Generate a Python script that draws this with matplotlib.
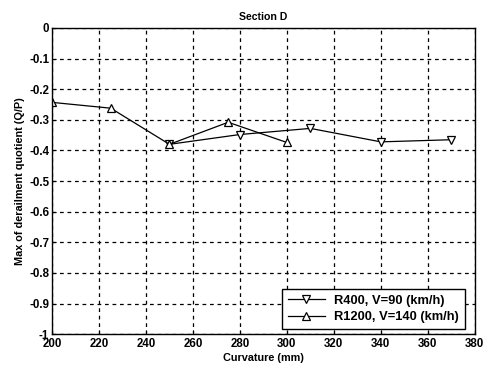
import matplotlib
matplotlib.use("Agg")
import matplotlib.pyplot as plt

plt.rcParams["font.family"] = ["Liberation Sans", "DejaVu Sans"]

# R400, V=90 km/h
x_r400 = [250, 280, 310, 340, 370]
y_r400 = [-0.38, -0.348, -0.328, -0.372, -0.365]

# R1200, V=140 km/h
x_r1200 = [200, 225, 250, 275, 300]
y_r1200 = [-0.243, -0.262, -0.38, -0.308, -0.374]

xticks = list(range(200, 381, 20))
yticks = [0, -0.1, -0.2, -0.3, -0.4, -0.5, -0.6, -0.7, -0.8, -0.9, -1]
ytick_labels = ["0", "-0.1", "-0.2", "-0.3", "-0.4", "-0.5", "-0.6",
                "-0.7", "-0.8", "-0.9", "-1"]

fig = plt.figure(figsize=(4.86, 3.68), dpi=100)
ax = fig.add_axes([0.107, 0.092, 0.87, 0.832])

ax.plot(x_r400, y_r400, color="black", lw=0.9, marker="v", ms=6,
        mfc="white", mec="black", mew=0.9, label="R400, V=90 (km/h)")
ax.plot(x_r1200, y_r1200, color="black", lw=0.9, marker="^", ms=6,
        mfc="white", mec="black", mew=0.9, label="R1200, V=140 (km/h)")

ax.set_xlim(200, 380)
ax.set_ylim(-1, 0)
ax.set_xticks(xticks)
ax.set_yticks(yticks)
ax.set_yticklabels(ytick_labels)
ax.tick_params(direction="in", length=3, labelsize=8.3)
ax.tick_params(axis="x", pad=3)
ax.tick_params(axis="y", pad=2)
for lab in ax.get_xticklabels() + ax.get_yticklabels():
    lab.set_fontweight("bold")

ax.grid(True, color="black", linestyle=(0, (3, 3)), lw=0.9)
for sp in ax.spines.values():
    sp.set_linewidth(1.0)

ax.set_title("Section D", fontsize=7.6, fontweight="bold", pad=6)
ax.set_xlabel("Curvature (mm)", fontsize=7.8, fontweight="bold", labelpad=2)
ax.set_ylabel("Max of derailment quotient (Q/P)", fontsize=7.8,
              fontweight="bold", labelpad=3)

leg = ax.legend(loc="lower right", bbox_to_anchor=(0.976, 0.016), fontsize=9.3,
                frameon=True, fancybox=False, edgecolor="black",
                handlelength=2.9, handletextpad=0.7, borderpad=0.45,
                labelspacing=0.35, borderaxespad=0)
leg.get_frame().set_linewidth(1.0)
leg.get_frame().set_alpha(1)
for t in leg.get_texts():
    t.set_fontweight("bold")

fig.savefig("out.png", dpi=100)
